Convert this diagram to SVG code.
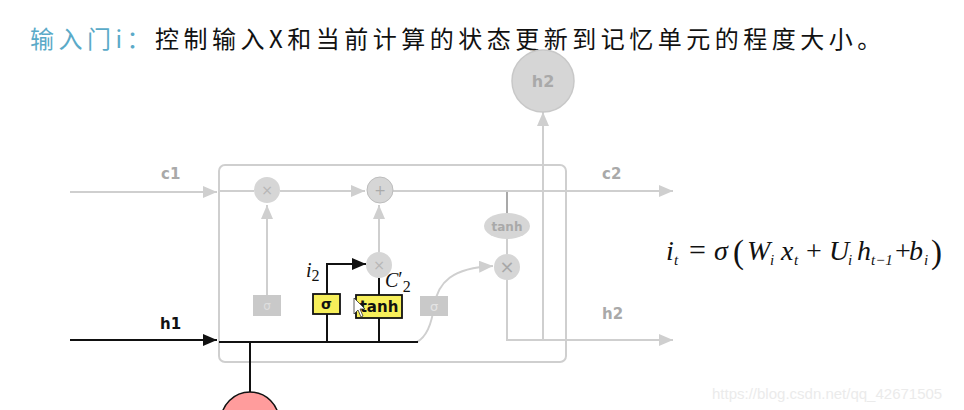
<svg xmlns="http://www.w3.org/2000/svg" width="964" height="410" viewBox="0 0 964 410">
<style>
.g{stroke:#cfcfcf;stroke-width:2;fill:none}
.gd{stroke:#8c8c8c;stroke-width:1.5;fill:none}
.k{stroke:#111;stroke-width:2;fill:none}
.gc{fill:#d6d6d6;stroke:none}
.lbl{font-family:"DejaVu Sans",sans-serif;font-weight:bold;font-size:15px;fill:#a9a9a9}
.sym{font-family:"DejaVu Sans",sans-serif;font-size:14px;fill:#b5b5b5;text-anchor:middle}
.yb{fill:#f7ef5a;stroke:#111;stroke-width:1.8}
.gb{fill:#c9c9c9;stroke:none}
.m{font-family:"Liberation Serif",serif;font-style:italic;fill:#111}
.mr{font-family:"Liberation Serif",serif;fill:#111}
</style>
<defs>
<marker id="ag" markerUnits="userSpaceOnUse" markerWidth="16" markerHeight="12" refX="14" refY="6" orient="auto"><path d="M0,0 L14,6 L0,12 Z" fill="#cfcfcf"/></marker>
<marker id="ak" markerUnits="userSpaceOnUse" markerWidth="16" markerHeight="12" refX="14" refY="6" orient="auto"><path d="M0,0 L14,6 L0,12 Z" fill="#111"/></marker>
</defs>
<rect width="964" height="410" fill="#ffffff"/>
<text x="30" y="48" font-family="Noto Sans CJK SC, sans-serif" font-size="24" letter-spacing="4.5" fill="#111"><tspan fill="#5aaac8">输入门i：</tspan>控制输入X和当前计算的状态更新到记忆单元的程度大小。</text>

<g id="connectors">
<rect x="219" y="165" width="347" height="197" rx="6" class="g"/>
<line x1="70" y1="192" x2="217" y2="192" class="g" marker-end="url(#ag)"/>
<line x1="219" y1="191" x2="254" y2="191" class="g"/>
<line x1="280" y1="191" x2="365" y2="191" class="g" marker-end="url(#ag)"/>
<line x1="393" y1="191" x2="673" y2="191" class="g" marker-end="url(#ag)"/>
<line x1="267" y1="295" x2="267" y2="205" class="g" marker-end="url(#ag)"/>
<line x1="379" y1="252" x2="379" y2="205" class="g" marker-end="url(#ag)"/>
<line x1="507" y1="192" x2="507" y2="213" class="gd"/>
<line x1="507" y1="239" x2="507" y2="254" class="g"/>
<polyline points="507,280 507,340 673,340" class="g" marker-end="url(#ag)"/>
<line x1="543" y1="340" x2="543" y2="112" class="g" marker-end="url(#ag)"/>
<path d="M417,342 C428,336 432,322 434,306 C438,282 452,268 493,266" class="g" marker-end="url(#ag)"/>
<line x1="70" y1="340" x2="217" y2="340" class="k" marker-end="url(#ak)"/>
<line x1="219" y1="342" x2="418" y2="342" class="k"/>
<line x1="250" y1="342" x2="250" y2="392" class="k"/>
<polyline points="327,342 327,264 366,264" class="k" marker-end="url(#ak)"/>
<line x1="379" y1="342" x2="379" y2="278" class="k"/>
</g>

<g id="c1-label"><text x="161" y="179" class="lbl">c1</text></g>
<g id="c2-label"><text x="602" y="179" class="lbl">c2</text></g>
<g id="h2-label"><text x="602" y="319" class="lbl">h2</text></g>
<g id="h1-label"><text x="160" y="329" class="lbl" style="fill:#111">h1</text></g>

<g id="forget-mult"><circle cx="267" cy="190" r="13" class="gc"/><text x="267" y="195" class="sym">×</text></g>
<g id="add"><circle cx="380" cy="190" r="13" fill="#d6d6d6" stroke="#bdbdbd" stroke-width="1"/><text x="380" y="195" class="sym" style="fill:#aaa">+</text></g>
<g id="input-mult"><circle cx="379" cy="265" r="13" class="gc"/><text x="379" y="270" class="sym">×</text></g>
<g id="output-mult"><circle cx="507" cy="267" r="13" class="gc"/><text x="507" y="273" class="sym" style="font-size:18px;fill:#a8a8a8">×</text></g>
<g id="tanh-out"><ellipse cx="507" cy="226" rx="23" ry="13" class="gc"/><text x="507" y="231" class="sym" style="font-weight:bold;font-size:12px;fill:#a9a9a9">tanh</text></g>
<g id="h2-top"><circle cx="543" cy="81" r="31" fill="#d6d6d6" stroke="#c8c8c8" stroke-width="1.5"/><text x="543" y="87" class="lbl" text-anchor="middle" style="font-size:16px">h2</text></g>
<g id="forget-sigma"><rect x="253" y="295" width="28" height="21" class="gb"/><text x="267" y="310" class="sym" style="fill:#dedede;font-size:12px">σ</text></g>
<g id="output-sigma"><rect x="420" y="296" width="28" height="20" class="gb"/><text x="434" y="311" class="sym" style="fill:#e4e4e4;font-size:13px">σ</text></g>
<g id="input-sigma"><rect x="313" y="294" width="27" height="20" class="yb"/><text x="326.5" y="309" font-family="DejaVu Sans, sans-serif" font-weight="bold" font-size="14" text-anchor="middle" fill="#111">σ</text></g>
<g id="input-tanh"><rect x="356" y="295" width="46" height="23" class="yb"/><text x="379" y="312" font-family="DejaVu Sans, sans-serif" font-weight="bold" font-size="15" text-anchor="middle" fill="#111">tanh</text></g>
<g id="i2-label"><text x="306" y="277" class="m" font-size="20">i<tspan font-style="normal" font-size="16" dy="4">2</tspan></text></g>
<g id="c2prime-label"><text x="385" y="287" class="m" font-size="20">C<tspan font-style="normal" dy="-1">′</tspan><tspan font-style="normal" font-size="16" dy="6">2</tspan></text></g>
<g id="h-input"><circle cx="250" cy="421" r="29" fill="#ff9c9c" stroke="#111" stroke-width="1.5"/></g>

<g id="formula">
<text y="260" font-size="28"><tspan x="666" class="m">i</tspan><tspan x="674" y="265" class="m" font-size="15">t</tspan><tspan x="689" y="260" class="mr" font-size="30">=</tspan><tspan x="714" y="260" class="m">σ</tspan></text>
<text x="733" y="263" class="mr" font-size="33">(</text>
<text y="260" font-size="28"><tspan x="747" class="m">W</tspan><tspan x="770" y="265" class="m" font-size="15">i</tspan><tspan x="781" y="260" class="m">x</tspan><tspan x="794" y="265" class="m" font-size="15">t</tspan><tspan x="806" y="260" class="mr">+</tspan><tspan x="829" y="260" class="m">U</tspan><tspan x="848" y="265" class="m" font-size="15">i</tspan><tspan x="857" y="260" class="m">h</tspan><tspan x="871" y="265" class="m" font-size="15">t−1</tspan><tspan x="895" y="260" class="mr">+</tspan><tspan x="909" y="260" class="m">b</tspan></text>
<text x="924" y="265" class="m" font-size="15">i</text>
<text x="931" y="263" class="mr" font-size="33">)</text>
</g>

<g id="cursor"><path d="M354,298 L354,314 L358,310 L361,317 L363,316 L360,309 L365,309 Z" fill="#fff" stroke="#333" stroke-width="0.8"/></g>
<text x="712" y="399" font-family="Liberation Sans, sans-serif" font-size="15" fill="#ebebeb">https://blog.csdn.net/qq_42671505</text>
</svg>
